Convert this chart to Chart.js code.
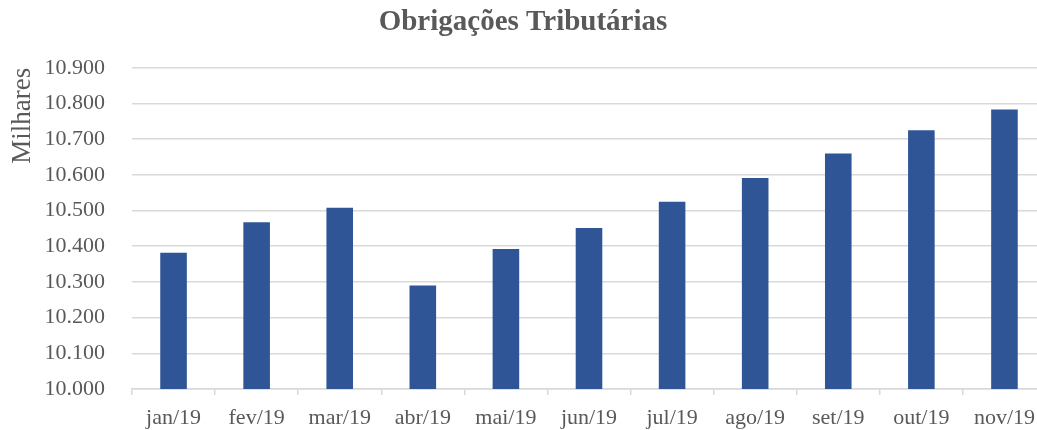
<!DOCTYPE html>
<html>
<head>
<meta charset="utf-8">
<script src="https://cdn.jsdelivr.net/npm/chart.js@4"></script>
<style>
  html, body { margin: 0; padding: 0; background: #fff; overflow: hidden; }
  #wrap { position: relative; width: 1046px; height: 430px; }
</style>
</head>
<body>
<div id="wrap"><canvas id="chart"></canvas></div>
<script>
// valores em milhares
const months = ["jan/19", "fev/19", "mar/19", "abr/19", "mai/19", "jun/19",
                "jul/19", "ago/19", "set/19", "out/19", "nov/19"];
const obrigacoes = [10382, 10467, 10508, 10290, 10392, 10451,
                    10525, 10591, 10660, 10725, 10783];
const yMin = 10000;
const yMax = 10900;
const yStep = 100;

const grey = "#595959";
const serif = "'Liberation Serif', 'Times New Roman', serif";

const fmt = v => v.toLocaleString("pt-BR");

new Chart(document.getElementById("chart"), {
  type: "bar",
  data: {
    labels: months,
    datasets: [{
      label: "Obrigações Tributárias",
      data: obrigacoes,
      backgroundColor: "#2F5597",
      barPercentage: 0.32,
      categoryPercentage: 1
    }]
  },
  options: {
    responsive: true,
    maintainAspectRatio: false,
    animation: false,
    layout: { padding: { left: 0, right: 0, top: 5, bottom: 0 } },
    plugins: {
      legend: { display: false },
      tooltip: { enabled: false },
      title: {
        display: true,
        text: "Obrigações Tributárias",
        color: grey,
        font: { family: serif, size: 29, weight: "bold" },
        padding: { top: 0, bottom: 28 }
      }
    },
    scales: {
      x: {
        grid: {
          display: true,
          drawOnChartArea: false,
          drawTicks: true,
          tickLength: 6,
          color: "#d9d9d9",
          lineWidth: 1.5
        },
        border: { display: true, color: "#d9d9d9", width: 1.5 },
        ticks: {
          color: grey,
          font: { family: serif, size: 22 },
          padding: 10,
          maxRotation: 0
        },
        afterFit(scale) { scale.height = 41; }
      },
      y: {
        min: yMin,
        max: yMax,
        ticks: {
          stepSize: yStep,
          color: grey,
          font: { family: serif, size: 22 },
          padding: 27,
          callback: v => fmt(v)
        },
        grid: { color: "#d9d9d9", lineWidth: 1.5, drawTicks: false },
        border: { display: false },
        title: {
          display: true,
          text: "Milhares",
          align: "end",
          color: grey,
          font: { family: serif, size: 27 },
          padding: { top: 7, bottom: 0 }
        },
        afterFit(scale) { scale.width = 132; }
      }
    }
  }
});
</script>
</body>
</html>
